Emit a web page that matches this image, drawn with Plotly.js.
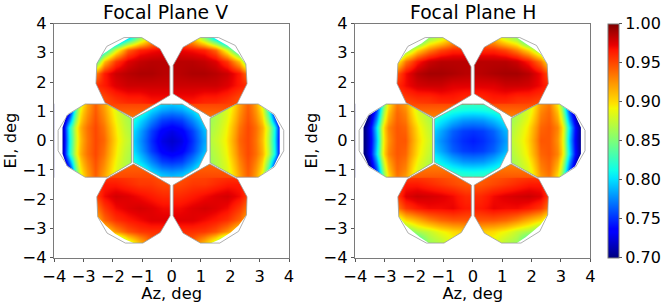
<!DOCTYPE html>
<html><head><meta charset="utf-8">
<script src="https://cdn.plot.ly/plotly-3.0.1.min.js"></script>
<style>html,body{margin:0;padding:0;background:#fff}</style></head>
<body><div id="chart" style="width:664px;height:303px"></div>
<script>
const panelTitles = ["Focal Plane V", "Focal Plane H"];
const axisTicks = [-4,-3,-2,-1,0,1,2,3,4];
const colorTicks = [0.70,0.75,0.80,0.85,0.90,0.95,1.00];

// grid edges (deg) of each detector block
const centerXEdges = [-1.33,-1.31,-0.875,-0.525,-0.175,0.175,0.525,0.875,1.24,1.26];
const centerYEdges = [-1.26,-1.24,-0.875,-0.525,-0.175,0.175,0.525,0.875,1.24,1.26];
const leftXEdges = [-4,-3.8,-3.6,-3.4,-3.2,-3,-2.75,-2.45,-2.15,-1.85,-1.36,-1.34];
const rightXEdges = [1.28,1.30,1.85,2.15,2.45,2.75,3,3.2,3.4,3.6,3.8,4];
const sideYEdges = [-1.26,-1.24,-0.675,-0.225,0.225,0.675,1.24,1.26];
const upLeftXEdges = [-2.9,-2.5,-2.1,-1.7,-1.3,-0.9,-0.5,-0.02];
const upRightXEdges = [0.02,0.5,0.9,1.3,1.7,2.1,2.5,2.9];
const topYEdges = [1.24,1.26,1.7,2.1,2.5,2.9,3.3,3.7];
const botYEdges = [-3.7,-3.3,-2.9,-2.5,-2.1,-1.7,-1.26,-1.24];

// Focal Plane V
const vCenter = [
[.86,.84,.825,.81,.805,.81,.825,.84,.855],
[.845,.83,.80,.785,.78,.785,.80,.83,.84],
[.83,.80,.775,.755,.75,.755,.775,.80,.825],
[.815,.785,.755,.735,.727,.735,.755,.785,.81],
[.81,.78,.75,.727,.72,.727,.75,.78,.80],
[.815,.785,.755,.735,.727,.735,.755,.785,.81],
[.83,.80,.775,.755,.75,.755,.775,.80,.825],
[.845,.83,.80,.785,.78,.785,.80,.83,.84],
[.86,.84,.825,.81,.805,.81,.825,.84,.855]];
const vLeft = [
[.65,.66,.70,.79,.87,.915,.94,.915,.885,.86,.84],
[.68,.69,.74,.83,.895,.925,.945,.925,.895,.87,.85],
[.69,.725,.815,.875,.915,.937,.95,.935,.905,.875,.855],
[.69,.72,.81,.87,.91,.935,.95,.94,.91,.88,.86],
[.69,.725,.815,.875,.915,.937,.95,.935,.905,.875,.855],
[.68,.69,.74,.83,.895,.925,.945,.925,.895,.87,.85],
[.65,.66,.70,.79,.87,.915,.94,.915,.885,.86,.84]];
const vRight = [
[.84,.86,.885,.915,.94,.915,.87,.79,.70,.66,.65],
[.85,.87,.895,.925,.945,.925,.895,.83,.74,.69,.68],
[.855,.875,.905,.935,.95,.937,.915,.875,.815,.725,.69],
[.86,.88,.91,.94,.95,.935,.91,.87,.81,.72,.69],
[.855,.875,.905,.935,.95,.937,.915,.875,.815,.725,.69],
[.85,.87,.895,.925,.945,.925,.895,.83,.74,.69,.68],
[.84,.86,.885,.915,.94,.915,.87,.79,.70,.66,.65]];
const vUpLeft = [
[.94,.945,.948,.952,.955,.958,.962],
[.945,.95,.96,.965,.965,.97,.97],
[.955,.965,.975,.98,.98,.98,.98],
[.92,.965,.98,.985,.988,.988,.985],
[.80,.91,.955,.975,.982,.985,.985],
[.70,.80,.88,.94,.962,.968,.972],
[.66,.70,.74,.80,.86,.91,.93]];
const vUpRight = [
[.962,.958,.955,.952,.948,.945,.94],
[.97,.97,.965,.965,.96,.95,.945],
[.98,.98,.98,.98,.975,.965,.955],
[.985,.988,.988,.985,.98,.965,.92],
[.985,.985,.982,.975,.955,.91,.80],
[.972,.968,.962,.94,.88,.80,.70],
[.93,.91,.86,.80,.74,.70,.66]];
const vLowLeft = [
[.70,.74,.80,.87,.91,.94,.95],
[.80,.89,.925,.945,.955,.958,.958],
[.90,.94,.957,.965,.97,.975,.975],
[.925,.955,.97,.975,.978,.975,.97],
[.945,.97,.978,.975,.97,.965,.96],
[.95,.965,.965,.96,.955,.955,.95],
[.945,.95,.952,.952,.95,.948,.945]];
const vLowRight = [
[.95,.94,.91,.87,.80,.74,.70],
[.958,.958,.955,.945,.925,.89,.80],
[.975,.975,.97,.965,.957,.94,.90],
[.97,.975,.978,.975,.97,.955,.925],
[.96,.965,.97,.975,.978,.97,.945],
[.95,.955,.955,.96,.965,.965,.95],
[.945,.948,.95,.952,.952,.95,.945]];

// Focal Plane H
const hCenter = [
[.865,.85,.84,.835,.835,.835,.84,.85,.86],
[.845,.83,.82,.815,.813,.815,.82,.83,.84],
[.825,.805,.79,.78,.778,.78,.79,.805,.82],
[.805,.785,.765,.755,.752,.755,.765,.785,.80],
[.80,.778,.76,.75,.745,.75,.76,.778,.795],
[.805,.785,.765,.755,.752,.755,.765,.785,.80],
[.825,.805,.79,.78,.778,.78,.79,.805,.82],
[.845,.83,.82,.815,.813,.815,.82,.83,.84],
[.865,.85,.84,.835,.835,.835,.84,.85,.86]];
const hLeft = [
[.64,.65,.67,.72,.80,.885,.93,.915,.885,.86,.84],
[.66,.67,.71,.76,.84,.91,.94,.93,.895,.87,.85],
[.67,.70,.735,.80,.88,.93,.945,.94,.91,.88,.855],
[.67,.70,.73,.79,.875,.925,.945,.945,.915,.885,.86],
[.67,.70,.735,.80,.88,.93,.945,.94,.91,.88,.855],
[.66,.67,.71,.76,.84,.91,.94,.93,.895,.87,.85],
[.64,.65,.67,.72,.80,.885,.93,.915,.885,.86,.84]];
const hRight = [
[.84,.86,.885,.915,.93,.885,.80,.72,.67,.65,.64],
[.85,.87,.895,.93,.94,.91,.84,.76,.71,.67,.66],
[.855,.88,.91,.94,.945,.93,.88,.80,.735,.70,.67],
[.86,.885,.915,.945,.945,.925,.875,.79,.73,.70,.67],
[.855,.88,.91,.94,.945,.93,.88,.80,.735,.70,.67],
[.85,.87,.895,.93,.94,.91,.84,.76,.71,.67,.66],
[.84,.86,.885,.915,.93,.885,.80,.72,.67,.65,.64]];
const hUpLeft = [
[.935,.94,.945,.95,.952,.952,.952],
[.945,.955,.96,.96,.965,.965,.96],
[.955,.97,.978,.98,.98,.975,.975],
[.935,.97,.985,.99,.99,.988,.985],
[.87,.935,.965,.98,.985,.985,.985],
[.76,.85,.90,.93,.95,.96,.96],
[.70,.76,.80,.86,.88,.91,.925]];
const hUpRight = [
[.952,.952,.952,.95,.945,.94,.935],
[.96,.965,.965,.96,.96,.955,.945],
[.975,.975,.98,.98,.978,.97,.955],
[.985,.988,.99,.99,.985,.97,.935],
[.985,.985,.985,.98,.965,.935,.87],
[.96,.96,.95,.93,.90,.85,.76],
[.925,.91,.88,.86,.80,.76,.70]];
const hLowLeft = [
[.72,.76,.81,.86,.87,.885,.89],
[.78,.84,.865,.875,.89,.90,.905],
[.86,.90,.915,.93,.94,.945,.945],
[.925,.955,.965,.97,.97,.972,.965],
[.945,.975,.98,.978,.975,.97,.96],
[.95,.965,.965,.96,.955,.95,.945],
[.94,.945,.948,.948,.945,.942,.94]];
const hLowRight = [
[.89,.885,.87,.86,.81,.76,.72],
[.905,.90,.89,.875,.865,.84,.78],
[.945,.945,.94,.93,.915,.90,.86],
[.965,.972,.97,.97,.965,.955,.925],
[.96,.97,.975,.978,.98,.975,.945],
[.945,.95,.955,.96,.965,.965,.95],
[.94,.942,.945,.948,.948,.945,.94]];

// block outlines (deg): [az, el]
const outlineCenter = [[-.36,1.25],[.36,1.25],[.92,.92],[1.2,.35],[1.2,-.35],[.92,-.92],[.36,-1.25],[-.36,-1.25],[-1.31,-.74],[-1.31,.74]];
const outlineLeft = [[-2.95,1.25],[-2.2,1.25],[-1.37,.76],[-1.37,-.76],[-2.2,-1.25],[-2.95,-1.25],[-3.53,-.9],[-3.87,-.35],[-3.87,.35],[-3.53,.9]];
const outlineRight = [[2.95,1.25],[3.5,.9],[3.82,.35],[3.82,-.35],[3.5,-.9],[2.95,-1.25],[2.2,-1.25],[1.31,-.76],[1.31,.76],[2.2,1.25]];
const outlineUpLeft = [[-1.62,3.52],[-1.02,3.52],[-.4,3.14],[-.06,2.52],[-.06,1.55],[-1.33,.79],[-2.27,1.29],[-2.58,1.95],[-2.55,2.63],[-2.21,3.22]];
const outlineUpRight = [[.98,3.52],[1.6,3.52],[2.17,3.25],[2.53,2.62],[2.57,1.94],[2.23,1.26],[1.32,.81],[.05,1.6],[.05,2.57],[.39,3.19]];
const outlineLowLeft = [[-1.3,-.8],[-.05,-1.52],[-.05,-2.57],[-.39,-3.14],[-.98,-3.5],[-1.58,-3.5],[-2.2,-3.16],[-2.52,-2.6],[-2.55,-1.92],[-2.23,-1.32]];
const outlineLowRight = [[1.3,-.8],[2.25,-1.32],[2.57,-1.92],[2.55,-2.54],[2.28,-3.1],[1.64,-3.5],[.98,-3.5],[.39,-3.16],[.05,-2.57],[.05,-1.52]];

// coloured part of each block where the map stops short of the outline
const vColorLeft = [[-2.95,1.25],[-2.2,1.25],[-1.37,.76],[-1.37,-.76],[-2.2,-1.25],[-2.95,-1.25],[-3.58,-.85],[-3.72,-.45],[-3.72,.45],[-3.58,.85]];
const vColorRight = [[2.95,1.25],[3.48,.88],[3.68,.45],[3.68,-.45],[3.48,-.88],[2.95,-1.25],[2.2,-1.25],[1.31,-.76],[1.31,.76],[2.2,1.25]];
const vColorUpLeft = [[-1.42,3.52],[-1.02,3.52],[-.4,3.14],[-.06,2.52],[-.06,1.55],[-1.33,.79],[-2.27,1.29],[-2.58,1.95],[-2.55,2.63],[-2.35,2.95],[-1.95,3.22]];
const vColorUpRight = [[.98,3.52],[1.42,3.52],[1.9,3.25],[2.28,2.95],[2.53,2.62],[2.57,1.94],[2.23,1.26],[1.32,.81],[.05,1.6],[.05,2.57],[.39,3.19]];
const vColorLowLeft = [[-1.3,-.8],[-.05,-1.52],[-.05,-2.57],[-.39,-3.14],[-.98,-3.5],[-1.3,-3.5],[-1.6,-3.37],[-1.93,-3.18],[-2.25,-2.9],[-2.52,-2.6],[-2.55,-1.92],[-2.23,-1.32]];
const vColorLowRight = [[1.3,-.8],[2.25,-1.32],[2.57,-1.92],[2.55,-2.54],[2.28,-2.9],[2,-3.15],[1.65,-3.37],[1.35,-3.5],[.98,-3.5],[.39,-3.16],[.05,-2.57],[.05,-1.52]];
const hColorLeft = [[-2.95,1.25],[-2.2,1.25],[-1.37,.76],[-1.37,-.76],[-2.2,-1.25],[-2.95,-1.25],[-3.55,-.85],[-3.72,-.45],[-3.72,.45],[-3.55,.85]];
const hColorRight = [[2.95,1.25],[3.48,.88],[3.68,.45],[3.68,-.45],[3.48,-.88],[2.95,-1.25],[2.2,-1.25],[1.31,-.76],[1.31,.76],[2.2,1.25]];
const hColorUpLeft = [[-1.48,3.52],[-1.02,3.52],[-.4,3.14],[-.06,2.52],[-.06,1.55],[-1.33,.79],[-2.27,1.29],[-2.58,1.95],[-2.55,2.63],[-2.3,2.98],[-2.05,3.15],[-1.75,3.32]];
const hColorUpRight = [[.98,3.52],[1.5,3.52],[1.8,3.32],[2.1,3.12],[2.32,2.95],[2.53,2.62],[2.57,1.94],[2.23,1.26],[1.32,.81],[.05,1.6],[.05,2.57],[.39,3.19]];
const hColorLowLeft = [[-1.3,-.8],[-.05,-1.52],[-.05,-2.57],[-.39,-3.14],[-.98,-3.5],[-1.5,-3.5],[-1.8,-3.3],[-2.05,-3.1],[-2.3,-2.88],[-2.52,-2.6],[-2.55,-1.92],[-2.23,-1.32]];
const hColorLowRight = [[1.3,-.8],[2.25,-1.32],[2.57,-1.92],[2.55,-2.54],[2.3,-2.88],[2.05,-3.1],[1.8,-3.3],[1.5,-3.5],[.98,-3.5],[.39,-3.16],[.05,-2.57],[.05,-1.52]];

// tips of the four corner blocks that reach down between the middle row
const tipUpLeft = [[-2.21,1.26],[-1.33,.79],[-.56,1.26]];
const tipUpRight = [[2.19,1.26],[1.32,.81],[.56,1.26]];
const tipLowLeft = [[-2.15,-1.26],[-1.3,-.8],[-.49,-1.26]];
const tipLowRight = [[2.13,-1.26],[1.3,-.8],[.49,-1.26]];
const vTipValues = [[.935,.952],[.94,.95]]; // [tip, base] upper, lower
const hTipValues = [[.93,.95],[.93,.945]];

const jet = [[0,'#00007f'],[0.11,'#0000ff'],[0.125,'#0000ff'],[0.34,'#00e5ff'],[0.375,'#0dffe9'],[0.5,'#7cff79'],[0.64,'#f4f802'],[0.66,'#ffe100'],[0.75,'#ff9400'],[0.89,'#ff1300'],[0.91,'#e80000'],[1,'#7f0000']];
function hexRgb(h){return [1,3,5].map(i=>parseInt(h.substr(i,2),16));}
function colorOf(v){
  const t=(v-0.7)/0.3;
  for(let i=1;i<jet.length;i++){ if(t<=jet[i][0]){
    const a=hexRgb(jet[i-1][1]),b=hexRgb(jet[i][1]),f=(t-jet[i-1][0])/(jet[i][0]-jet[i-1][0]);
    return 'rgb('+a.map((c,k)=>Math.round(c+(b[k]-c)*f)).join(',')+')';
  }}
  return jet[jet.length-1][1];
}
function area(p){let s=0;p.forEach((q,i)=>{const r=p[(i+1)%p.length];s+=q[0]*r[1]-r[0]*q[1];});return s;}
function withWinding(p,positive){return (area(p)>0)===positive?p:p.slice().reverse();}

const panels = [
 {xa:'x',ya:'y',center:vCenter,left:vLeft,right:vRight,ul:vUpLeft,ur:vUpRight,ll:vLowLeft,lr:vLowRight,
  holes:[outlineCenter,vColorLeft,vColorRight,vColorUpLeft,vColorUpRight,vColorLowLeft,vColorLowRight],tips:vTipValues},
 {xa:'x2',ya:'y2',center:hCenter,left:hLeft,right:hRight,ul:hUpLeft,ur:hUpRight,ll:hLowLeft,lr:hLowRight,
  holes:[outlineCenter,hColorLeft,hColorRight,hColorUpLeft,hColorUpRight,hColorLowLeft,hColorLowRight],tips:hTipValues}
];
const outlines=[outlineCenter,outlineLeft,outlineRight,outlineUpLeft,outlineUpRight,outlineLowLeft,outlineLowRight];
const traces=[];
panels.forEach(p=>{
  const blocks=[[centerXEdges,centerYEdges,p.center],[leftXEdges,sideYEdges,p.left],[rightXEdges,sideYEdges,p.right],
    [upLeftXEdges,topYEdges,p.ul],[upRightXEdges,topYEdges,p.ur],[upLeftXEdges,botYEdges,p.ll],[upRightXEdges,botYEdges,p.lr]];
  blocks.forEach(b=>traces.push({type:'heatmap',x:b[0],y:b[1],z:b[2],zsmooth:'best',coloraxis:'coloraxis',xaxis:p.xa,yaxis:p.ya,hoverinfo:'skip'}));
  const mx=[-4.3,4.3,4.3,-4.3,-4.3],my=[-4.3,-4.3,4.3,4.3,-4.3];
  p.holes.forEach(h=>{const w=withWinding(h,false);mx.push(null);my.push(null);
    w.concat([w[0]]).forEach(q=>{mx.push(q[0]);my.push(q[1]);});});
  traces.push({type:'scatter',mode:'none',x:mx,y:my,fill:'toself',fillcolor:'#ffffff',xaxis:p.xa,yaxis:p.ya,hoverinfo:'skip',showlegend:false});
  [[tipUpLeft,p.tips[0],.79,1.26],[tipUpRight,p.tips[0],.79,1.26],[tipLowLeft,p.tips[1],-.8,-1.26],[tipLowRight,p.tips[1],-.8,-1.26]].forEach(t=>{
    const c=t[0].concat([t[0][0]]);
    traces.push({type:'scatter',mode:'none',x:c.map(q=>q[0]),y:c.map(q=>q[1]),fill:'toself',
      fillgradient:{type:'vertical',colorscale:[[0,colorOf(t[1][0])],[1,colorOf(t[1][1])]],start:t[2],stop:t[3]},
      xaxis:p.xa,yaxis:p.ya,hoverinfo:'skip',showlegend:false});
  });
  outlines.forEach(o=>{const c=o.concat([o[0]]);
    traces.push({type:'scatter',mode:'lines',x:c.map(q=>q[0]),y:c.map(q=>q[1]),line:{color:'#9a9a9a',width:0.8},xaxis:p.xa,yaxis:p.ya,hoverinfo:'skip',showlegend:false});});
});

const W=664,H=303;
const font={family:'"DejaVu Sans", sans-serif',size:16.3,color:'#000'};
function axis(dom,anchor,title){return {domain:dom,anchor:anchor,range:[-4,4],tickmode:'array',tickvals:axisTicks,showgrid:false,zeroline:false,
  showline:true,mirror:true,linecolor:'#7a7a7a',linewidth:1,ticks:'outside',ticklen:3.5,tickcolor:'#555',tickwidth:1,tickfont:font,
  title:{text:title,font:font,standoff:1}};}
const ydom=[(H-257.7)/H,(H-23.5)/H];
const layout={width:W,height:H,autosize:false,margin:{l:0,r:0,t:0,b:0},paper_bgcolor:'#fff',plot_bgcolor:'#fff',showlegend:false,font:font,
  xaxis:axis([54.3/W,289/W],'y','Az, deg'),yaxis:axis(ydom,'x','El, deg'),
  xaxis2:axis([355.3/W,590.3/W],'y2','Az, deg'),yaxis2:axis(ydom,'x2','El, deg'),
  coloraxis:{cmin:0.7,cmax:1,colorscale:jet,colorbar:{x:607.7/W,xanchor:'left',xpad:0,ypad:0,y:ydom[0],yanchor:'bottom',
    len:234,lenmode:'pixels',thickness:11.3,thicknessmode:'pixels',outlinecolor:'#7a7a7a',outlinewidth:1,
    tickmode:'array',tickvals:colorTicks,ticktext:colorTicks.map(v=>v.toFixed(2)),ticks:'outside',ticklen:3,tickcolor:'#555',tickfont:{family:font.family,size:16,color:'#000'}}},
  annotations:panelTitles.map((t,i)=>({text:t,xref:'paper',yref:'paper',x:(i?473.3:165)/W,y:0,yshift:H-24,xanchor:'center',yanchor:'bottom',showarrow:false,borderpad:0,
    font:{family:font.family,size:18.8,color:'#000'}}))};
Plotly.newPlot('chart',traces,layout,{displayModeBar:false,staticPlot:true});
</script></body></html>
